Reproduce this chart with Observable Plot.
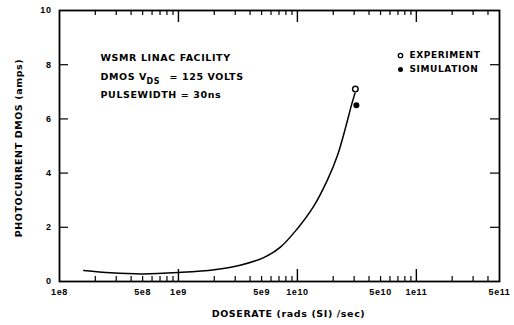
<!DOCTYPE html>
<html>
<head>
<meta charset="utf-8">
<script src="https://cdn.jsdelivr.net/npm/d3@7"></script>
<script src="https://cdn.jsdelivr.net/npm/@observablehq/plot@0.6"></script>
<style>
  html, body { margin: 0; padding: 0; background: #fff; }
  #chart svg { letter-spacing: 0.6px; }
</style>
</head>
<body>
<div id="chart"></div>
<script>
// Photocurrent curve (simulation sweep)
const doserate = [1.6e8, 2.7e8, 5e8, 1e9, 2e9, 3.3e9, 5.2e9, 7.2e9, 1e10, 1.36e10, 1.79e10, 2.17e10, 2.53e10, 2.84e10, 3.05e10];
const photocurrent = [0.41, 0.32, 0.28, 0.33, 0.43, 0.6, 0.88, 1.27, 1.95, 2.75, 3.75, 4.65, 5.65, 6.49, 6.95];

// Measured and simulated points at the highest dose rate
const experimentX = [3.07e10];
const experimentY = [7.1];
const simulationX = [3.13e10];
const simulationY = [6.5];

// Axis ticks
const xTickValues = [1e8, 5e8, 1e9, 5e9, 1e10, 5e10, 1e11, 5e11];
const xTickLabels = ["1e8", "5e8", "1e9", "5e9", "1e10", "5e10", "1e11", "5e11"];
const xMajorTicks = [1e9, 1e10, 1e11];
const xMinorTicks = [
  2e8, 3e8, 4e8, 5e8, 6e8, 7e8, 8e8, 9e8,
  2e9, 3e9, 4e9, 5e9, 6e9, 7e9, 8e9, 9e9,
  2e10, 3e10, 4e10, 5e10, 6e10, 7e10, 8e10, 9e10,
  2e11, 3e11, 4e11
];
const yTickValues = [0, 2, 4, 6, 8, 10];
const yTickLabels = ["0", "2", "4", "6", "8", "10"];
const yInnerTicks = [2, 4, 6, 8];

const legendLabels = ["EXPERIMENT", "SIMULATION"];
const notes = ["WSMR LINAC FACILITY", "DMOS V", "DS", "= 125 VOLTS", "PULSEWIDTH = 30ns"];

const curve = doserate.map((x, i) => ({x, y: photocurrent[i]}));
const experiment = experimentX.map((x, i) => ({x, y: experimentY[i]}));
const simulation = simulationX.map((x, i) => ({x, y: simulationY[i]}));

const W = 514, H = 325;
const mL = 59, mR = 15, mT = 10, mB = 44;
const plotW = W - mL - mR, plotH = H - mT - mB;

const font = "DejaVu Sans";
const tickFont = "Liberation Sans";
const bold = {fontWeight: "bold", fill: "#000", lineAnchor: "middle"};

const chart = Plot.plot({
  width: W,
  height: H,
  marginLeft: mL,
  marginRight: mR,
  marginTop: mT,
  marginBottom: mB,
  x: {type: "log", domain: [1e8, 5e11], axis: null},
  y: {domain: [0, 10], axis: null},
  style: {background: "#fff", color: "#000", fontFamily: font},
  marks: [
    Plot.frame({stroke: "#000", strokeWidth: 1.8}),

    // inward ticks along the bottom and top edges
    Plot.tickX(xMinorTicks, {x: d => d, insetTop: plotH - 5, stroke: "#000", strokeWidth: 1.2}),
    Plot.tickX(xMajorTicks, {x: d => d, insetTop: plotH - 12, stroke: "#000", strokeWidth: 1.4}),
    Plot.tickX(xMinorTicks, {x: d => d, insetBottom: plotH - 5, stroke: "#000", strokeWidth: 1.2}),
    Plot.tickX(xMajorTicks, {x: d => d, insetBottom: plotH - 12, stroke: "#000", strokeWidth: 1.4}),

    // inward ticks along the left and right edges
    Plot.tickY(yInnerTicks, {y: d => d, insetRight: plotW - 9, stroke: "#000", strokeWidth: 1.2}),
    Plot.tickY(yInnerTicks, {y: d => d, insetLeft: plotW - 9, stroke: "#000", strokeWidth: 1.2}),

    // tick labels
    Plot.text(xTickValues, {x: d => d, y: 0, text: (d, i) => xTickLabels[i], dy: 11,
      fontFamily: tickFont, fontSize: 9, ...bold}),
    Plot.text(yTickValues, {x: 1e8, y: d => d, text: (d, i) => yTickLabels[i], dx: -8, textAnchor: "end",
      fontFamily: tickFont, fontSize: 9, ...bold}),

    // axis titles
    Plot.text(["DOSERATE (rads (SI) /sec)"], {frameAnchor: "bottom", textAnchor: "middle", dx: 9, dy: 32,
      fontSize: 9.5, ...bold}),
    Plot.text(["PHOTOCURRENT DMOS (amps)"], {frameAnchor: "left", textAnchor: "middle", rotate: -90, dx: -41, dy: 2,
      fontSize: 9.5, ...bold}),

    // facility notes
    Plot.text([notes[0]], {frameAnchor: "top-left", textAnchor: "start", dx: 41, dy: 47.5, fontSize: 9.5, ...bold}),
    Plot.text([notes[1]], {frameAnchor: "top-left", textAnchor: "start", dx: 41, dy: 66.3, fontSize: 9.5, ...bold}),
    Plot.text([notes[2]], {frameAnchor: "top-left", textAnchor: "start", dx: 87, dy: 70.7, fontSize: 8, ...bold}),
    Plot.text([notes[3]], {frameAnchor: "top-left", textAnchor: "start", dx: 110, dy: 66.3, fontSize: 9.5, ...bold}),
    Plot.text([notes[4]], {frameAnchor: "top-left", textAnchor: "start", dx: 41, dy: 84, fontSize: 9.5, ...bold}),

    // legend
    Plot.dot([legendLabels[0]], {frameAnchor: "top-right", dx: -99, dy: 45, r: 2.2,
      stroke: "#000", strokeWidth: 1.3, fill: "#fff"}),
    Plot.dot([legendLabels[1]], {frameAnchor: "top-right", dx: -99, dy: 59, r: 2.5,
      fill: "#000", stroke: "none"}),
    Plot.text([legendLabels[0]], {frameAnchor: "top-right", textAnchor: "start", dx: -90, dy: 45, fontSize: 9, ...bold}),
    Plot.text([legendLabels[1]], {frameAnchor: "top-right", textAnchor: "start", dx: -90, dy: 59, fontSize: 9, ...bold}),

    // photocurrent curve and points
    Plot.line(curve, {x: "x", y: "y", curve: "catmull-rom", stroke: "#000", strokeWidth: 1.5}),
    Plot.dot(simulation, {x: "x", y: "y", r: 3, fill: "#000", stroke: "none"}),
    Plot.dot(experiment, {x: "x", y: "y", r: 2.8, fill: "#fff", stroke: "#000", strokeWidth: 1.4})
  ]
});

document.getElementById("chart").appendChild(chart);
</script>
</body>
</html>
